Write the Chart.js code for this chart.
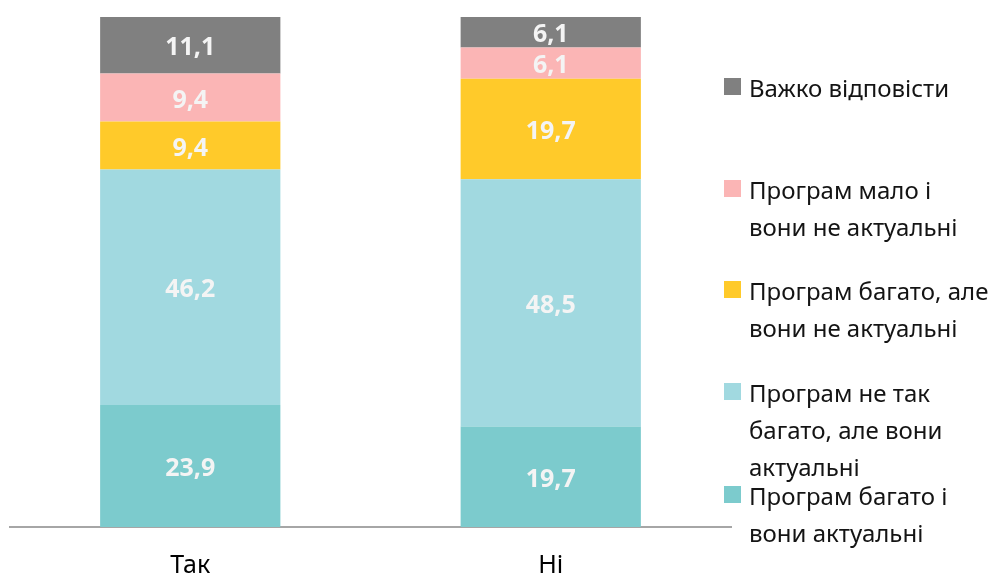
<!DOCTYPE html>
<html>
<head>
<meta charset="utf-8">
<script src="https://cdn.jsdelivr.net/npm/chart.js@4/dist/chart.umd.min.js"></script>
<style>
html,body{margin:0;padding:0;background:#fff;}
#wrap{position:relative;width:1000px;height:577px;}
canvas{position:absolute;left:0;top:0;}
.lg{position:absolute;left:749px;font-family:"Noto Sans",sans-serif;font-size:24px;line-height:37px;color:#141414;white-space:nowrap;}
.bx{position:absolute;left:724px;width:17px;height:17px;}
</style>
</head>
<body>
<div id="wrap">
<canvas id="c" width="1000" height="577"></canvas>
<div id="legend"></div>
</div>
<script>
const categories = ["Так", "Ні"];
const seriesNames = [
  "Програм багато і вони актуальні",
  "Програм не так багато, але вони актуальні",
  "Програм багато, але вони не актуальні",
  "Програм мало і вони не актуальні",
  "Важко відповісти"
];
const legendLines = [
  ["Програм багато і", "вони актуальні"],
  ["Програм не так", "багато, але вони", "актуальні"],
  ["Програм багато, але", "вони не актуальні"],
  ["Програм мало і", "вони не актуальні"],
  ["Важко відповісти"]
];
const valuesBagatoAktualni = [23.9, 19.7];
const valuesNeTakBagato = [46.2, 48.5];
const valuesBagatoNeAktualni = [9.4, 19.7];
const valuesMaloNeAktualni = [9.4, 6.1];
const valuesVazhko = [11.1, 6.1];
const seriesValues = [valuesBagatoAktualni, valuesNeTakBagato, valuesBagatoNeAktualni, valuesMaloNeAktualni, valuesVazhko];
const colors = ["#7ccbcd", "#a1d9e0", "#ffca2a", "#fbb5b5", "#808080"];

const datasets = seriesNames.map((n, i) => ({
  label: n,
  data: seriesValues[i],
  backgroundColor: colors[i],
  borderWidth: 0,
  categoryPercentage: 1,
  barPercentage: 0.5
}));

const labelPlugin = {
  id: 'segLabels',
  afterDatasetsDraw(chart) {
    const ctx = chart.ctx;
    ctx.save();
    ctx.font = 'bold 25px "Noto Sans", sans-serif';
    ctx.fillStyle = '#f4f4f4';
    ctx.textAlign = 'center';
    ctx.textBaseline = 'middle';
    chart.data.datasets.forEach((ds, di) => {
      const meta = chart.getDatasetMeta(di);
      meta.data.forEach((bar, i) => {
        const v = ds.data[i];
        const y = (bar.y + bar.base) / 2;
        ctx.fillText(v.toFixed(1).replace('.', ','), bar.x, y + 3);
      });
    });
    ctx.restore();
  }
};

new Chart(document.getElementById('c'), {
  type: 'bar',
  data: { labels: categories, datasets },
  options: {
    responsive: false,
    animation: false,
    layout: { padding: { left: 10, right: 269, top: 17, bottom: 0 } },
    plugins: { legend: { display: false }, tooltip: { enabled: false } },
    scales: {
      x: {
        stacked: true,
        grid: { display: false, drawTicks: false },
        border: { display: true, color: '#a6a6a6', width: 2 },
        ticks: { color: '#000', padding: 26, font: { family: '"Noto Sans", sans-serif', size: 25, lineHeight: 1 } },
        afterFit(scale) { scale.height = 50; }
      },
      y: {
        stacked: true,
        display: false,
        min: 0,
        max: 100
      }
    }
  },
  plugins: [labelPlugin]
});

// HTML legend (top to bottom: reverse of stack order)
const firstLineCenters = [495, 392, 290, 189, 87];
const lg = document.getElementById('legend');
seriesNames.forEach((n, i) => {
  const c = firstLineCenters[i];
  const bx = document.createElement('div');
  bx.className = 'bx';
  bx.style.top = (c - 9) + 'px';
  bx.style.background = colors[i];
  lg.appendChild(bx);
  const t = document.createElement('div');
  t.className = 'lg';
  t.style.top = (c - 18.5) + 'px';
  t.innerHTML = legendLines[i].join('<br>');
  lg.appendChild(t);
});
</script>
</body>
</html>
